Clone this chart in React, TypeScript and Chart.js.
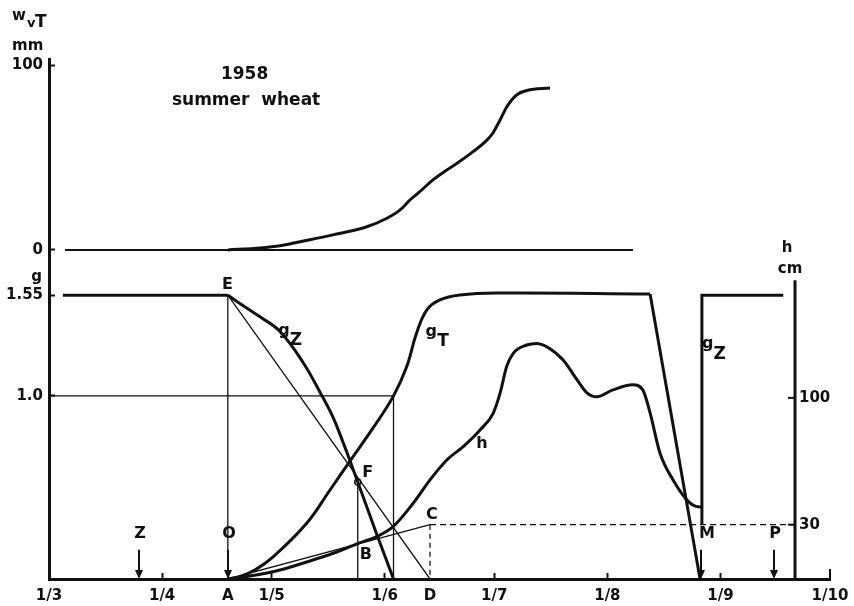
import { useEffect, useRef } from 'react';
import { Chart, registerables } from 'chart.js';

Chart.register(...registerables);

// ---------- x axis: days after 1 March 1958 ----------
const MONTH_TICK_DAYS = [0, 31, 61, 92, 122, 153, 184, 214];
const MONTH_TICK_LABELS = ['1/3', '1/4', '1/5', '1/6', '1/7', '1/8', '1/9', '1/10'];
const X_MAX = 214;

// construction points of the figure (day, value)
const A_DAY = 49;            // emergence (A, E, O)
const D_DAY = 104.4;         // point D / C
const E_G = 1.55;
const C_H = 30;
const F_DAY = 84.6;
const F_G = 0.53;
const G1_DAY = 94.4;         // g_T reaches 1.0
const G1_LEVEL = 1.0;
const START_DAY = 3.8;

// ---------- axis tick values ----------
const W_TICKS = [0, 100];
const G_TICKS = [1.0, 1.55];
const H_TICKS = [30, 100];
const H_AXIS_DAY = 204.4;
const H_AXIS_TOP = 165;

// ---------- top panel: W_vT (mm) ----------
const W_DAYS = [49, 57.8, 63.3, 68.8, 77.8, 87.1, 92.6, 96.2, 98.9, 101.6, 105.2, 109.0, 111.8, 116.2, 120.0, 121.6, 123.6, 125.5, 128.2, 131.0, 137.3];
const W_VALUES = [0, 1.1, 2.3, 4.5, 8.2, 12.6, 17.2, 21.7, 27.1, 31.6, 38.0, 43.4, 47.0, 53.3, 59.6, 63.3, 70.5, 77.8, 84.2, 86.5, 87.8];
const W_ZERO_DAYS = [4.4, 160];

// ---------- bottom panel: g ----------
const GZ_DAYS = [49, 52.3, 57.8, 63.3, 69.7, 74.8, 77.9, 80.6, 82.5, 84.6, 89.8, 94.4];
const GZ_VALUES = [1.55, 1.505, 1.432, 1.352, 1.18, 1.0, 0.88, 0.745, 0.645, 0.53, 0.245, 0];

const GT_DAYS = [49, 52.3, 56.5, 61.5, 70.6, 77.0, 82.5, 88.8, 94.4, 98.0, 100.7, 103.5, 107.1, 112.6, 122.7, 164.7];
const GT_VALUES = [0, 0.013, 0.05, 0.122, 0.304, 0.486, 0.645, 0.825, 1.0, 1.159, 1.342, 1.469, 1.524, 1.551, 1.562, 1.557];
const GT_FALL_DAYS = [164.7, 178.4];
const GT_FALL_VALUES = [1.557, 0];

const GZ_LATE_DAYS = [178.9, 178.9, 201.2];
const GZ_LATE_VALUES = [0.3, 1.55, 1.55];

// ---------- crop height h (cm) ----------
const H_DAYS = [49, 55.1, 63.3, 72.3, 78.9, 84.7, 89.8, 94.3, 99.8, 104.4, 109.0, 113.5, 118.1, 121.7, 123.6, 125.4, 127.2, 130.9, 133.6, 136.4, 140.8, 144.7, 147.4, 150.1, 154.5, 160.0, 162.7, 164.7, 167.4, 171.0, 175.6, 178.4, 178.9];
const H_VALUES = [0, 1.7, 5.0, 10.5, 14.9, 19.7, 23.4, 28.9, 41.8, 54.7, 65.7, 73.1, 82.3, 91.5, 102.6, 117.3, 124.6, 129.2, 130.1, 128.2, 121.0, 110.0, 102.8, 100.6, 104.4, 107.2, 104.4, 91.7, 69.6, 54.7, 42.0, 39.8, 39.8];

// ---------- annotations ----------
const ARROW_LABELS = ['Z', 'O', 'M', 'P'];
const ARROW_DAYS = [24.7, 49, 178.6, 198.6];
const ARROW_TOP_G = 0.16;
const ARROW_LABEL_G = 0.245;

const G_TEXTS = [
  { text: 'E', day: 48.9, g: 1.606 },
  { text: 'g', sub: 'Z', day: 64.4, g: 1.355 },
  { text: 'g', sub: 'T', day: 104.7, g: 1.349 },
  { text: 'h', day: 118.6, g: 0.737 },
  { text: 'F', day: 87.3, g: 0.579 },
  { text: 'B', day: 86.8, g: 0.13 },
  { text: 'C', day: 104.9, g: 0.35 },
  { text: 'g', sub: 'Z', day: 180.5, g: 1.283 },
];
const W_TEXTS = [
  { text: '1958', day: 53.6, w: 95.0 },
  { text: 'summer  wheat', day: 54.0, w: 80.8 },
];

// ---------- scale layout (panel stacking) ----------
const G_MAX = 2.84;
const W_ZERO_AT_G = 1.797;
const W_PER_G = 99.3;
const H_PER_G = 101.1;
const W_MIN = -W_ZERO_AT_G * W_PER_G;
const W_MAX = (G_MAX - W_ZERO_AT_G) * W_PER_G;
const H_MAX = G_MAX * H_PER_G;

const INK = '#111';
const FONT = "'DejaVu Sans', sans-serif";

export default function App() {
  const ref = useRef<HTMLCanvasElement>(null);

  useEffect(() => {
    const canvas = ref.current;
    if (!canvas) return;
    const pts = (xs: number[], ys: number[]) => xs.map((x, i) => ({ x, y: ys[i] }));
    const THICK = 3;
    const THIN = 1.3;
    const ds = (data: any[], opts: any = {}) => ({
      type: 'line', data, borderColor: INK, borderWidth: THIN, pointRadius: 0,
      fill: false, tension: 0, yAxisID: 'y', ...opts,
    });

    const xTicks = [
      ...MONTH_TICK_DAYS.map((d, i) => ({ value: d, lbl: MONTH_TICK_LABELS[i] })),
      { value: A_DAY, lbl: 'A' },
      { value: D_DAY, lbl: 'D' },
    ].sort((a, b) => a.value - b.value);

    const leftTicks = [
      ...G_TICKS.map((g) => ({ value: g, lbl: g === 1 ? '1.0' : String(g) })),
      ...W_TICKS.map((w) => ({ value: W_ZERO_AT_G + w / W_PER_G, lbl: String(w) })),
    ].sort((a, b) => a.value - b.value);

    const font = (s: number) => `bold ${s}px ${FONT}`;

    const annot = {
      id: 'annot',
      afterDraw(chart: any) {
        const { ctx, chartArea } = chart;
        const { x, y, yW, yH } = chart.scales;
        ctx.save();
        ctx.fillStyle = INK;
        ctx.strokeStyle = INK;

        // right-hand h axis
        const ax = Math.round(x.getPixelForValue(H_AXIS_DAY));
        const axTop = yH.getPixelForValue(H_AXIS_TOP);
        ctx.lineWidth = 3;
        ctx.beginPath();
        ctx.moveTo(ax, yH.getPixelForValue(0) + 1.5);
        ctx.lineTo(ax, axTop);
        ctx.stroke();
        ctx.lineWidth = 2;
        ctx.font = font(15);
        ctx.textAlign = 'left';
        ctx.textBaseline = 'middle';
        H_TICKS.forEach((h) => {
          const py = yH.getPixelForValue(h);
          ctx.beginPath();
          ctx.moveTo(ax - 7, py);
          ctx.lineTo(ax, py);
          ctx.stroke();
          ctx.fillText(String(h), ax + 4, py);
        });
        ctx.textAlign = 'center';
        ctx.textBaseline = 'alphabetic';
        ctx.fillText('h', ax - 8, axTop - 28);
        ctx.fillText('cm', ax - 5, axTop - 7);

        // left titles
        const lx = chartArea.left;
        ctx.textAlign = 'left';
        ctx.font = font(15);
        ctx.fillText('w', lx - 37, 20);
        ctx.font = font(13);
        ctx.fillText('v', lx - 22, 27);
        ctx.font = font(17);
        ctx.fillText('T', lx - 14, 27);
        ctx.font = font(15);
        ctx.fillText('mm', lx - 37, 50);
        ctx.textAlign = 'right';
        ctx.fillText('g', lx - 7, 281);

        // point labels
        ctx.textBaseline = 'middle';
        G_TEXTS.forEach((t: any) => {
          const px = x.getPixelForValue(t.day);
          const py = y.getPixelForValue(t.g);
          ctx.font = font(16);
          ctx.textAlign = 'center';
          ctx.fillText(t.text, px, py);
          if (t.sub) {
            ctx.font = font(17);
            ctx.fillText(t.sub, px + 12, py + 10);
          }
        });
        ctx.font = font(17);
        ctx.textAlign = 'center';
        W_TEXTS.forEach((t) => {
          ctx.fillText(t.text, x.getPixelForValue(t.day), yW.getPixelForValue(t.w));
        });

        // arrows
        const y0 = y.getPixelForValue(0);
        ARROW_DAYS.forEach((d, i) => {
          const px = Math.round(x.getPixelForValue(d));
          ctx.lineWidth = 2;
          ctx.beginPath();
          ctx.moveTo(px, y.getPixelForValue(ARROW_TOP_G));
          ctx.lineTo(px, y0 - 6);
          ctx.stroke();
          ctx.beginPath();
          ctx.moveTo(px - 4, y0 - 9);
          ctx.lineTo(px + 4, y0 - 9);
          ctx.lineTo(px, y0);
          ctx.closePath();
          ctx.fill();
          ctx.font = font(16);
          ctx.textAlign = 'center';
          ctx.fillText(ARROW_LABELS[i], px + (ARROW_LABELS[i] === 'M' ? 6 : 1), y.getPixelForValue(ARROW_LABEL_G));
        });

        // taller closing tick at the end of the time axis
        const xe = x.getPixelForValue(X_MAX);
        ctx.lineWidth = 2;
        ctx.beginPath();
        ctx.moveTo(xe, y0);
        ctx.lineTo(xe, y0 - 10);
        ctx.stroke();
        ctx.restore();
      },
    };

    const chart = new Chart(canvas, {
      type: 'line',
      data: {
        datasets: [
          ds(pts(W_DAYS, W_VALUES), { yAxisID: 'yW', borderWidth: THICK, cubicInterpolationMode: 'monotone' }),
          ds(pts(W_ZERO_DAYS, [0, 0]), { yAxisID: 'yW', borderWidth: 2 }),
          ds(pts([START_DAY, A_DAY], [E_G, E_G]), { borderWidth: THICK }),
          ds(pts(GZ_DAYS, GZ_VALUES), { borderWidth: THICK, tension: 0.4 }),
          ds(pts(GT_DAYS, GT_VALUES), { borderWidth: THICK, tension: 0.4 }),
          ds(pts(GT_FALL_DAYS, GT_FALL_VALUES), { borderWidth: THICK }),
          ds(pts(GZ_LATE_DAYS, GZ_LATE_VALUES), { borderWidth: THICK }),
          ds(pts(H_DAYS, H_VALUES), { yAxisID: 'yH', borderWidth: THICK, cubicInterpolationMode: 'monotone' }),
          ds(pts([0, G1_DAY, G1_DAY], [G1_LEVEL, G1_LEVEL, 0])),
          ds(pts([A_DAY, A_DAY], [E_G, 0])),
          ds(pts([A_DAY, D_DAY], [E_G, 0])),
          ds(pts([F_DAY, F_DAY], [F_G, 0])),
          ds(pts([A_DAY, D_DAY], [0, C_H]), { yAxisID: 'yH' }),
          ds(pts([D_DAY, D_DAY], [C_H, 0]), { yAxisID: 'yH', borderDash: [5, 4] }),
          ds(pts([D_DAY, H_AXIS_DAY], [C_H, C_H]), { yAxisID: 'yH', borderDash: [6, 4] }),
          ds(pts([F_DAY], [F_G]), { pointRadius: 3, pointBackgroundColor: '#fff', pointBorderColor: INK, pointBorderWidth: 1.5 }),
        ] as any,
      },
      options: {
        animation: false,
        responsive: true,
        maintainAspectRatio: false,
        layout: { padding: { top: 59, right: 24, left: 0, bottom: 0 } },
        plugins: { legend: { display: false }, tooltip: { enabled: false } },
        events: [],
        scales: {
          x: {
            type: 'linear', min: 0, max: X_MAX,
            afterBuildTicks: (s: any) => { s.ticks = xTicks.map((t) => ({ ...t })); },
            afterFit: (s: any) => { s.height = 27; s.paddingLeft = 0; s.paddingRight = 0; },
            ticks: {
              autoSkip: false, maxRotation: 0, minRotation: 0, padding: 14, color: INK,
              font: { family: FONT, size: 15, weight: 'bold' },
              callback: (_v: any, i: number, ticks: any[]) => ticks[i].lbl,
            },
            grid: {
              drawOnChartArea: false, drawTicks: true, tickLength: -6, tickWidth: 2,
              tickColor: (c: any) => (c.tick && (c.tick.lbl === 'A' || c.tick.lbl === 'D' || c.tick.value === 0 || c.tick.value === X_MAX)) ? 'rgba(0,0,0,0)' : INK,
            },
            border: { display: true, color: INK, width: 3 },
          },
          y: {
            type: 'linear', position: 'left', min: 0, max: G_MAX,
            afterBuildTicks: (s: any) => { s.ticks = leftTicks.map((t) => ({ ...t })); },
            afterFit: (s: any) => { s.width = 49; },
            ticks: {
              autoSkip: false, padding: 12, color: INK,
              font: { family: FONT, size: 15, weight: 'bold' },
              callback: (_v: any, i: number, ticks: any[]) => ticks[i].lbl,
            },
            grid: { drawOnChartArea: false, drawTicks: true, tickLength: -6, tickWidth: 2, tickColor: INK },
            border: { display: true, color: INK, width: 3 },
          },
          yW: { type: 'linear', display: false, min: W_MIN, max: W_MAX },
          yH: { type: 'linear', display: false, min: 0, max: H_MAX },
        },
      } as any,
      plugins: [annot],
    } as any);

    return () => chart.destroy();
  }, []);

  return (
    <div style={{ position: 'absolute', left: 0, top: 0, width: 854, height: 606, background: '#fff' }}>
      <canvas ref={ref} />
    </div>
  );
}
